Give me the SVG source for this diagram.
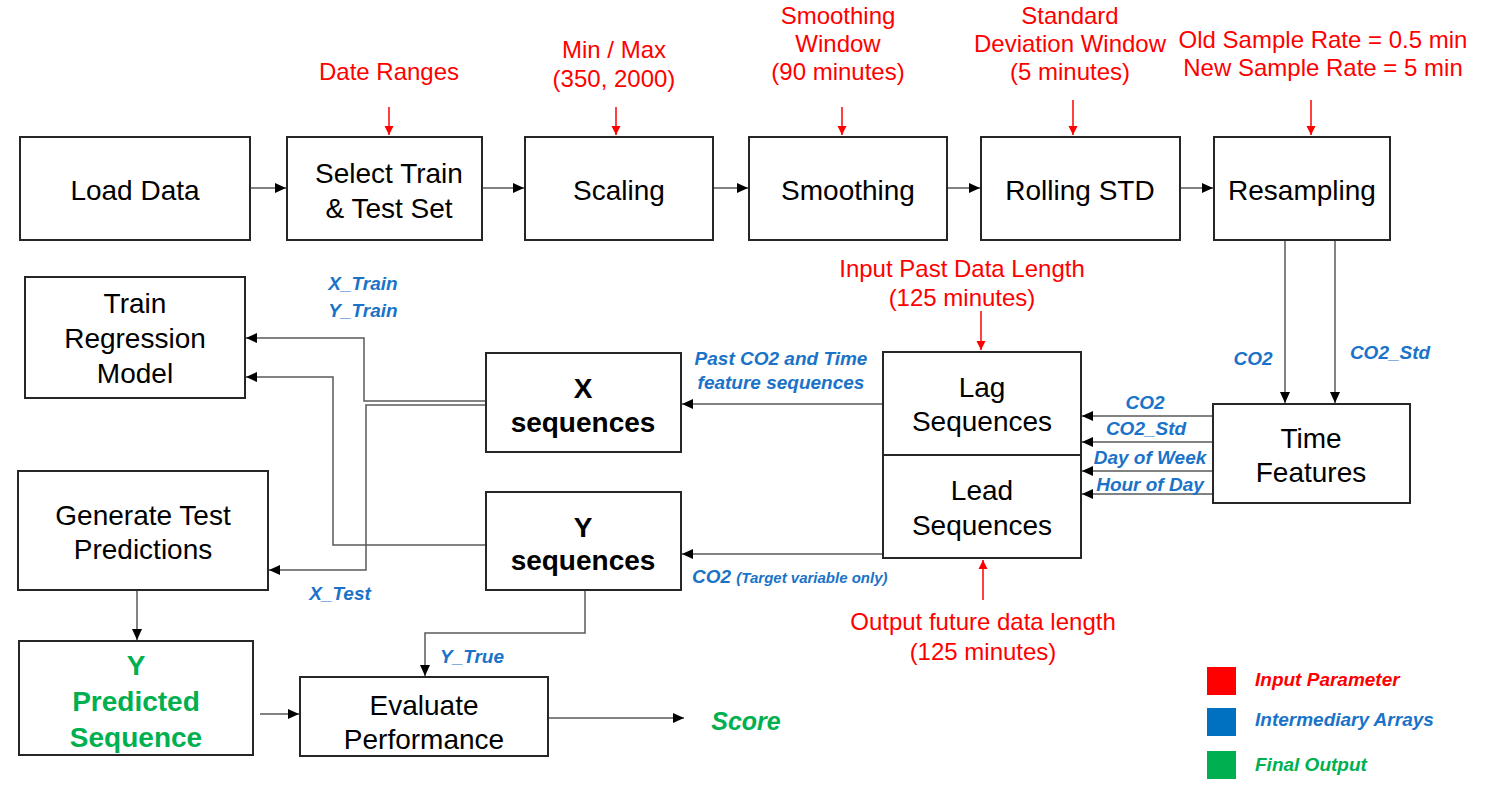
<svg xmlns="http://www.w3.org/2000/svg" width="1491" height="792" viewBox="0 0 1491 792">
<style>
.box{fill:#fff;stroke:#262626;stroke-width:2}
.t{font-family:"Liberation Sans",Arial,sans-serif;font-size:28px;fill:#000;text-anchor:middle}
.tb{font-weight:bold}
.g{fill:#00B050;font-weight:bold}
.r{font-family:"Liberation Sans",Arial,sans-serif;font-size:24px;fill:#FF0000;text-anchor:middle}
.b{font-family:"Liberation Sans",Arial,sans-serif;font-size:19px;fill:#1a73c8;font-weight:bold;font-style:italic;text-anchor:middle}
.bs{font-size:15px}
.lg{font-family:"Liberation Sans",Arial,sans-serif;font-size:19px;font-weight:bold;font-style:italic}
.c{fill:none;stroke:#595959;stroke-width:1.5}
.cr{fill:none;stroke:#FF0000;stroke-width:1.5}
</style>
<defs>
<marker id="ah" markerUnits="userSpaceOnUse" markerWidth="12" markerHeight="10" refX="11" refY="5" orient="auto"><path d="M0,0 L11,5 L0,10 z" fill="#000"/></marker>
<marker id="ahr" markerUnits="userSpaceOnUse" markerWidth="10" markerHeight="10" refX="9" refY="5" orient="auto"><path d="M0,0.5 L9,5 L0,9.5 z" fill="#FF0000"/></marker>
</defs>
<rect width="1491" height="792" fill="#fff"/>

<g id="connectors">
<path class="c" d="M250,188 H286" marker-end="url(#ah)"/>
<path class="c" d="M482,188 H524" marker-end="url(#ah)"/>
<path class="c" d="M713,188 H748" marker-end="url(#ah)"/>
<path class="c" d="M947,188 H980" marker-end="url(#ah)"/>
<path class="c" d="M1180,188 H1213" marker-end="url(#ah)"/>
<path class="c" d="M1285,240 V403" marker-end="url(#ah)"/>
<path class="c" d="M1335,240 V403" marker-end="url(#ah)"/>
<path class="c" d="M1213,416 H1082" marker-end="url(#ah)"/>
<path class="c" d="M1213,442 H1082" marker-end="url(#ah)"/>
<path class="c" d="M1213,471 H1082" marker-end="url(#ah)"/>
<path class="c" d="M1213,494 H1082" marker-end="url(#ah)"/>
<path class="c" d="M883,404 H682" marker-end="url(#ah)"/>
<path class="c" d="M883,554 H682" marker-end="url(#ah)"/>
<path class="c" d="M486,401 H364 V338 H246" marker-end="url(#ah)"/>
<path class="c" d="M486,545 H333 V377 H246" marker-end="url(#ah)"/>
<path class="c" d="M486,405 H366 V570 H269" marker-end="url(#ah)"/>
<path class="c" d="M137,590 V640" marker-end="url(#ah)"/>
<path class="c" d="M585,590 V633 H425 V676" marker-end="url(#ah)"/>
<path class="c" d="M260,714 H299" marker-end="url(#ah)"/>
<path class="c" d="M548,718 H684" marker-end="url(#ah)"/>
<path class="cr" d="M389,107 V135" marker-end="url(#ahr)"/>
<path class="cr" d="M616,107 V135" marker-end="url(#ahr)"/>
<path class="cr" d="M842,107 V135" marker-end="url(#ahr)"/>
<path class="cr" d="M1073,100 V135" marker-end="url(#ahr)"/>
<path class="cr" d="M1311,100 V135" marker-end="url(#ahr)"/>
<path class="cr" d="M981,311 V350" marker-end="url(#ahr)"/>
<path class="cr" d="M983,600 V560" marker-end="url(#ahr)"/>
</g>

<g id="load-data"><rect class="box" x="20" y="137" width="230" height="103"/><text class="t" x="135" y="200">Load Data</text></g>
<g id="select-train-test"><rect class="box" x="287" y="137" width="195" height="103"/><text class="t" x="389" y="183">Select Train</text><text class="t" x="389" y="218">&amp; Test Set</text></g>
<g id="scaling"><rect class="box" x="525" y="137" width="188" height="103"/><text class="t" x="619" y="200">Scaling</text></g>
<g id="smoothing"><rect class="box" x="749" y="137" width="198" height="103"/><text class="t" x="848" y="200">Smoothing</text></g>
<g id="rolling-std"><rect class="box" x="981" y="137" width="199" height="103"/><text class="t" x="1080" y="200">Rolling STD</text></g>
<g id="resampling"><rect class="box" x="1214" y="137" width="176" height="103"/><text class="t" x="1302" y="200">Resampling</text></g>

<g id="train-regression-model"><rect class="box" x="25" y="277" width="220" height="121"/><text class="t" x="135" y="313">Train</text><text class="t" x="135" y="348">Regression</text><text class="t" x="135" y="383">Model</text></g>
<g id="x-sequences"><rect class="box" x="486" y="353" width="195" height="99"/><text class="t tb" x="583" y="398">X</text><text class="t tb" x="583" y="432">sequences</text></g>
<g id="lag-sequences"><rect class="box" x="883" y="352" width="198" height="103"/><text class="t" x="982" y="397">Lag</text><text class="t" x="982" y="431">Sequences</text></g>
<g id="lead-sequences"><rect class="box" x="883" y="455" width="198" height="103"/><text class="t" x="982" y="500">Lead</text><text class="t" x="982" y="535">Sequences</text></g>
<g id="time-features"><rect class="box" x="1213" y="404" width="197" height="99"/><text class="t" x="1311" y="448">Time</text><text class="t" x="1311" y="482">Features</text></g>
<g id="generate-test-predictions"><rect class="box" x="18" y="471" width="250" height="119"/><text class="t" x="143" y="525">Generate Test</text><text class="t" x="143" y="559">Predictions</text></g>
<g id="y-sequences"><rect class="box" x="486" y="492" width="195" height="98"/><text class="t tb" x="583" y="537">Y</text><text class="t tb" x="583" y="570">sequences</text></g>
<g id="y-predicted-sequence"><rect class="box" x="19" y="641" width="234" height="114"/><text class="t g" x="136" y="675">Y</text><text class="t g" x="136" y="711">Predicted</text><text class="t g" x="136" y="747">Sequence</text></g>
<g id="evaluate-performance"><rect class="box" x="300" y="677" width="248" height="79"/><text class="t" x="424" y="715">Evaluate</text><text class="t" x="424" y="749">Performance</text></g>
<g id="score"><text class="t g" x="746" y="730" style="font-style:italic;font-size:25px">Score</text></g>

<g id="parameters">
<text class="r" x="389" y="80">Date Ranges</text>
<text class="r" x="614" y="58">Min / Max</text><text class="r" x="614" y="87">(350, 2000)</text>
<text class="r" x="838" y="24">Smoothing</text><text class="r" x="838" y="52">Window</text><text class="r" x="838" y="80">(90 minutes)</text>
<text class="r" x="1070" y="24">Standard</text><text class="r" x="1070" y="52">Deviation Window</text><text class="r" x="1070" y="80">(5 minutes)</text>
<text class="r" x="1323" y="48">Old Sample Rate = 0.5 min</text><text class="r" x="1323" y="76">New Sample Rate = 5 min</text>
<text class="r" x="962" y="277">Input Past Data Length</text><text class="r" x="962" y="306">(125 minutes)</text>
<text class="r" x="983" y="630">Output future data length</text><text class="r" x="983" y="660">(125 minutes)</text>
</g>

<g id="array-labels">
<text class="b" x="363" y="290">X_Train</text>
<text class="b" x="363" y="317">Y_Train</text>
<text class="b" x="340" y="600">X_Test</text>
<text class="b" x="781" y="365">Past CO2 and Time</text>
<text class="b" x="781" y="389">feature sequences</text>
<text class="b" x="692" y="583" style="text-anchor:start">CO2 <tspan class="bs">(Target variable only)</tspan></text>
<text class="b" x="472" y="663">Y_True</text>
<text class="b" x="1253" y="365">CO2</text>
<text class="b" x="1390" y="359">CO2_Std</text>
<text class="b" x="1145" y="409">CO2</text>
<text class="b" x="1146" y="435">CO2_Std</text>
<text class="b" x="1150" y="464">Day of Week</text>
<text class="b" x="1150" y="491">Hour of Day</text>
</g>

<g id="legend">
<rect x="1207" y="667" width="29" height="28" fill="#FF0000"/>
<rect x="1207" y="708" width="29" height="28" fill="#0070C0"/>
<rect x="1207" y="751" width="29" height="28" fill="#00B050"/>
<text class="lg" x="1255" y="686" fill="#FF0000">Input Parameter</text>
<text class="lg" x="1255" y="726" fill="#1a73c8">Intermediary Arrays</text>
<text class="lg" x="1255" y="771" fill="#00B050">Final Output</text>
</g>
</svg>
